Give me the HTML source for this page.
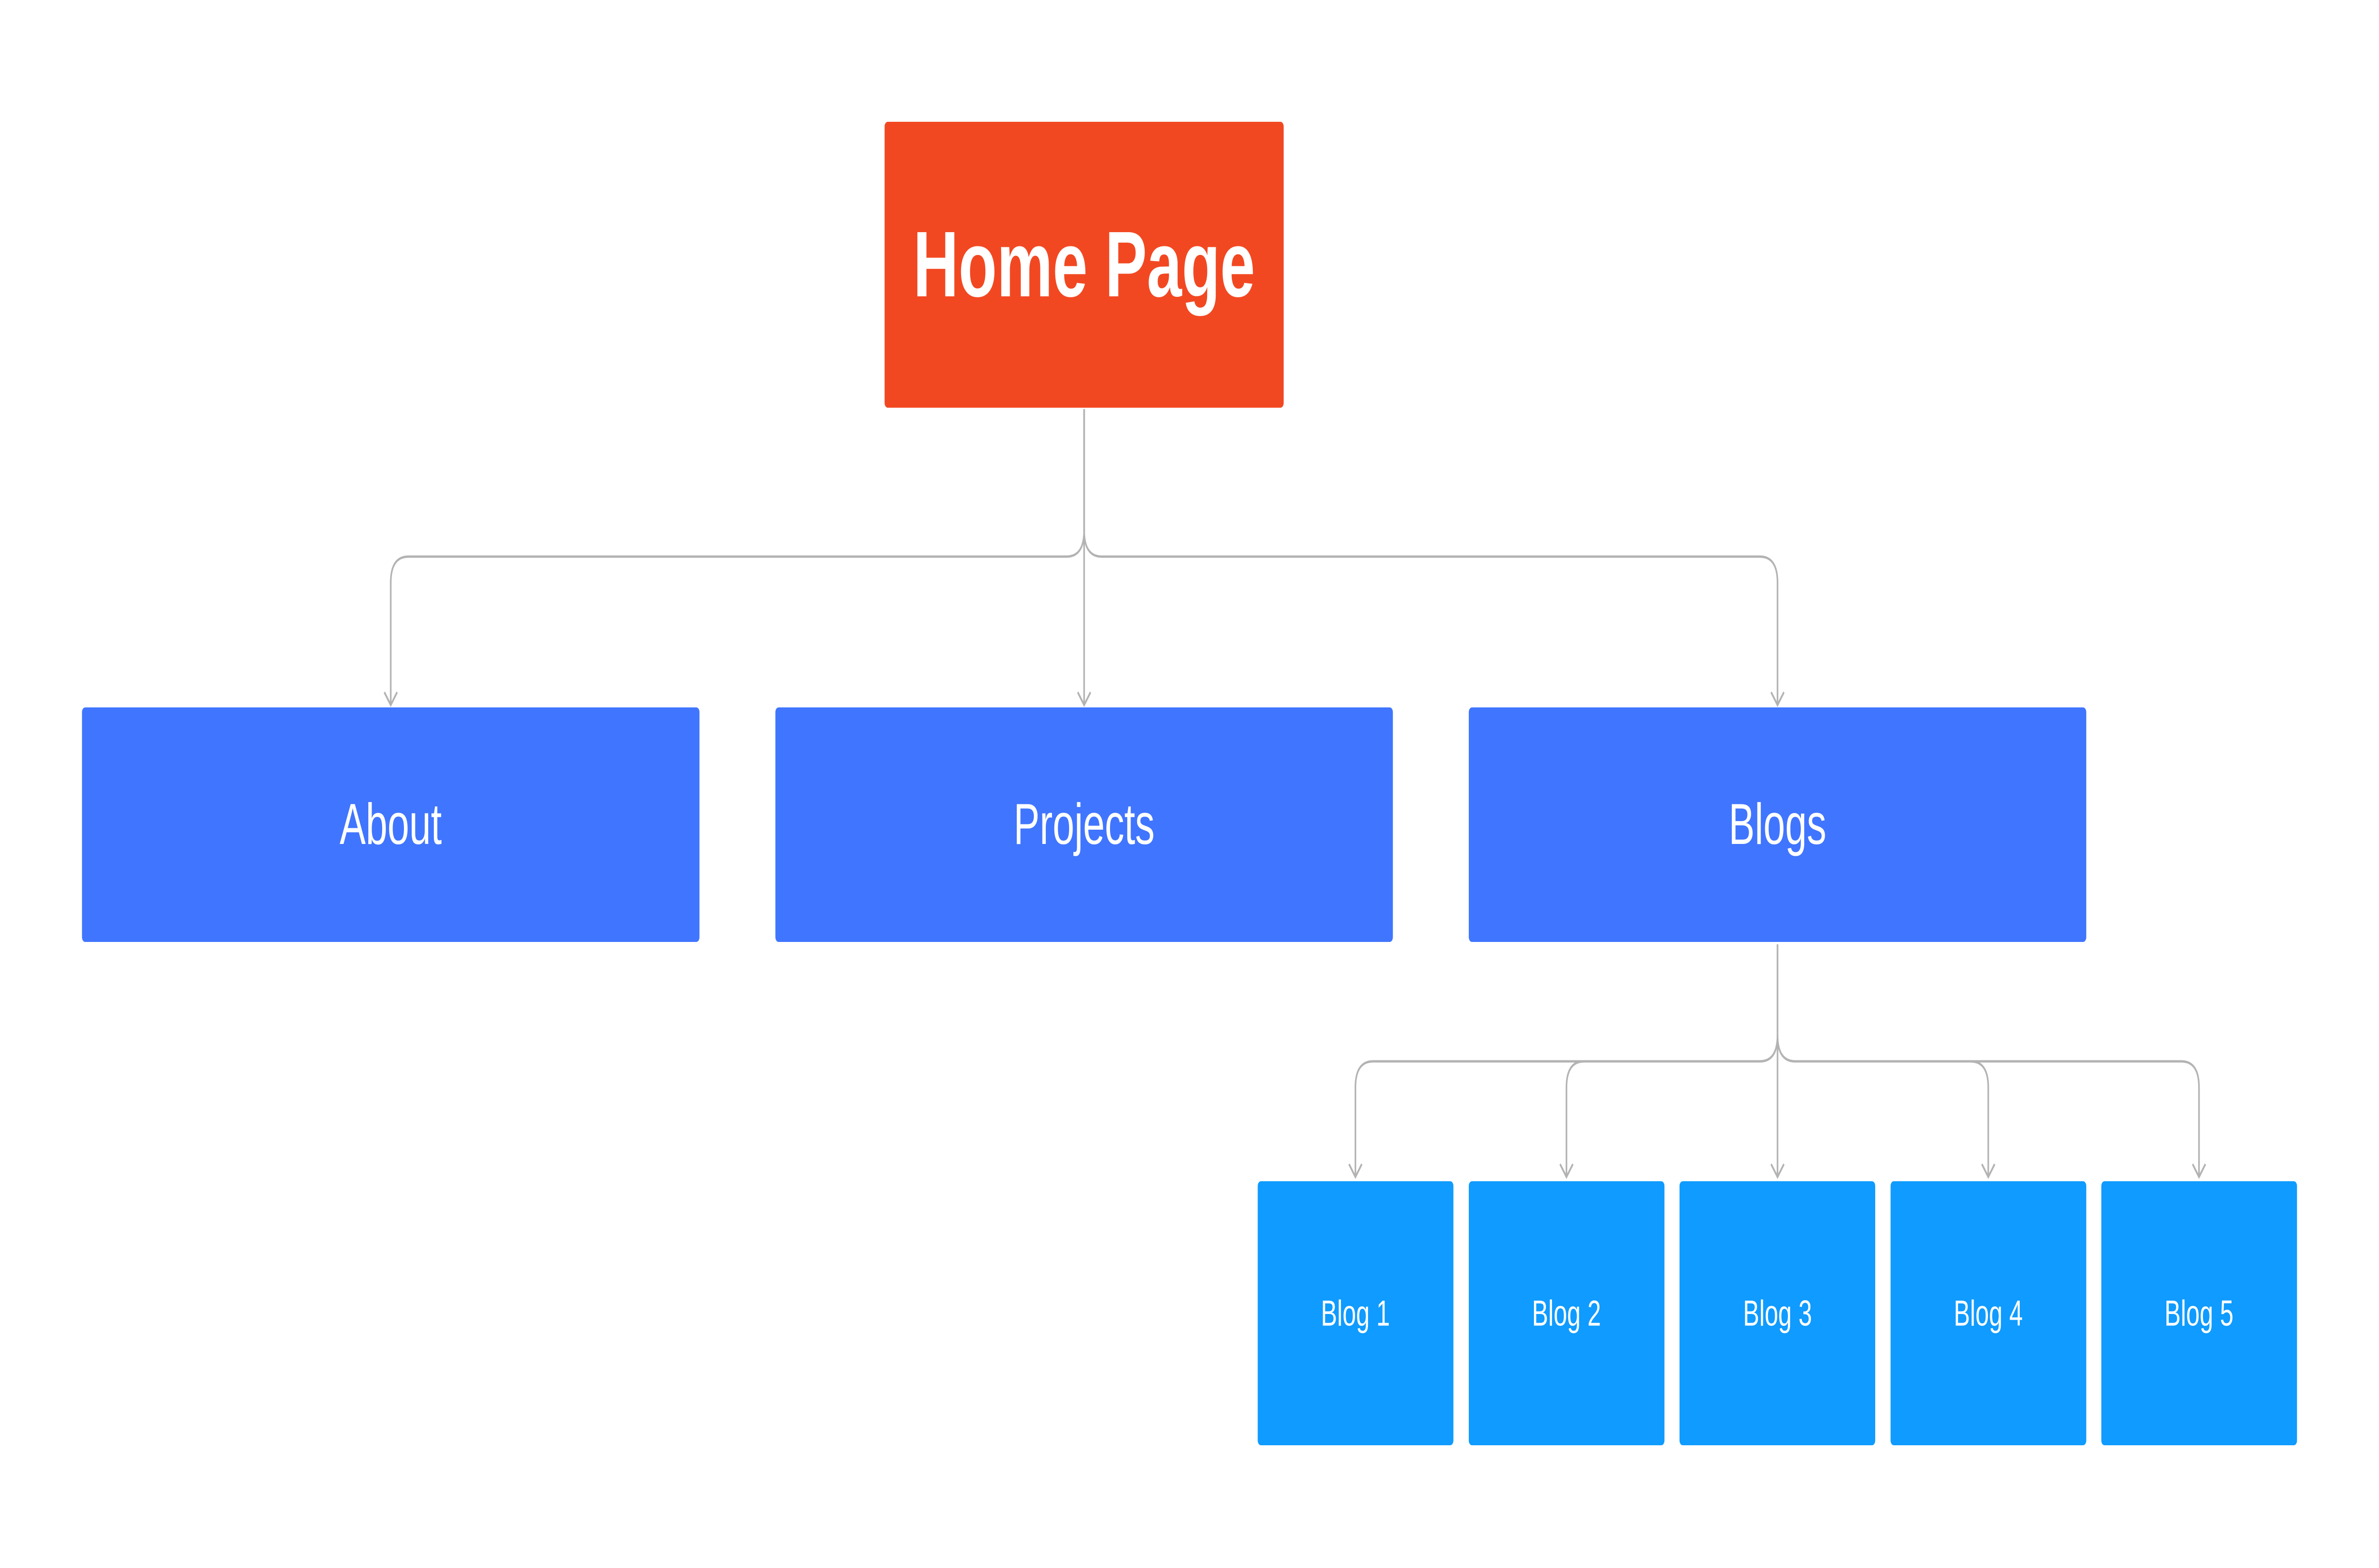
<!DOCTYPE html>
<html><head><style>
html,body{margin:0;padding:0;background:#fff;overflow:hidden}
svg{position:fixed;left:0;top:0;width:100vw;height:100vh;display:block}
text{font-family:"Liberation Sans",sans-serif;fill:#fff;text-anchor:middle;dominant-baseline:central}
</style></head><body>
<svg viewBox="0 0 7428 3296" preserveAspectRatio="none">
<rect x="0" y="0" width="7428" height="3296" fill="#fff"/>
<g fill="none" stroke="#b3b3b3" stroke-width="5">
<path d="M3385,860 V1115 Q3385,1170 3330,1170 H1275 Q1220,1170 1220,1225 V1480"/>
<path d="M3385,860 V1115 Q3385,1170 3440,1170 H5495 Q5550,1170 5550,1225 V1480"/>
<path d="M3385,860 V1480"/>
<path d="M1200,1455 L1220,1482 L1240,1455 M3365,1455 L3385,1482 L3405,1455 M5530,1455 L5550,1482 L5570,1455"/>
<path d="M5550,1985 V2176 Q5550,2231 5495,2231 H4287 Q4232,2231 4232,2286 V2472"/>
<path d="M5550,2176 Q5550,2231 5495,2231 H4946 Q4891,2231 4891,2286 V2472"/>
<path d="M5550,1985 V2472"/>
<path d="M5550,2176 Q5550,2231 5605,2231 H6153 Q6208,2231 6208,2286 V2472"/>
<path d="M5550,2176 Q5550,2231 5605,2231 H6811 Q6866,2231 6866,2286 V2472"/>
<path d="M4212,2447 L4232,2474 L4252,2447 M4871,2447 L4891,2474 L4911,2447 M5530,2447 L5550,2474 L5570,2447 M6188,2447 L6208,2474 L6228,2447 M6846,2447 L6866,2474 L6886,2447"/>
</g>
<rect x="2762" y="256" width="1246" height="601" rx="10" fill="#F24822"/>
<text x="3385" y="556" font-size="196" font-weight="bold">Home Page</text>
<rect x="256" y="1487" width="1928" height="493" rx="10" fill="#4075FF"/>
<text x="1220" y="1733" font-size="122">About</text>
<rect x="2421" y="1487" width="1928" height="493" rx="10" fill="#4075FF"/>
<text x="3385" y="1733" font-size="122">Projects</text>
<rect x="4586" y="1487" width="1928" height="493" rx="10" fill="#4075FF"/>
<text x="5550" y="1733" font-size="122">Blogs</text>
<rect x="3927" y="2483" width="611" height="555" rx="10" fill="#0F9BFF"/>
<text x="4232" y="2760" font-size="76">Blog 1</text>
<rect x="4586" y="2483" width="611" height="555" rx="10" fill="#0F9BFF"/>
<text x="4891" y="2760" font-size="76">Blog 2</text>
<rect x="5244" y="2483" width="611" height="555" rx="10" fill="#0F9BFF"/>
<text x="5550" y="2760" font-size="76">Blog 3</text>
<rect x="5903" y="2483" width="611" height="555" rx="10" fill="#0F9BFF"/>
<text x="6208" y="2760" font-size="76">Blog 4</text>
<rect x="6561" y="2483" width="611" height="555" rx="10" fill="#0F9BFF"/>
<text x="6866" y="2760" font-size="76">Blog 5</text>
</svg>
</body></html>
